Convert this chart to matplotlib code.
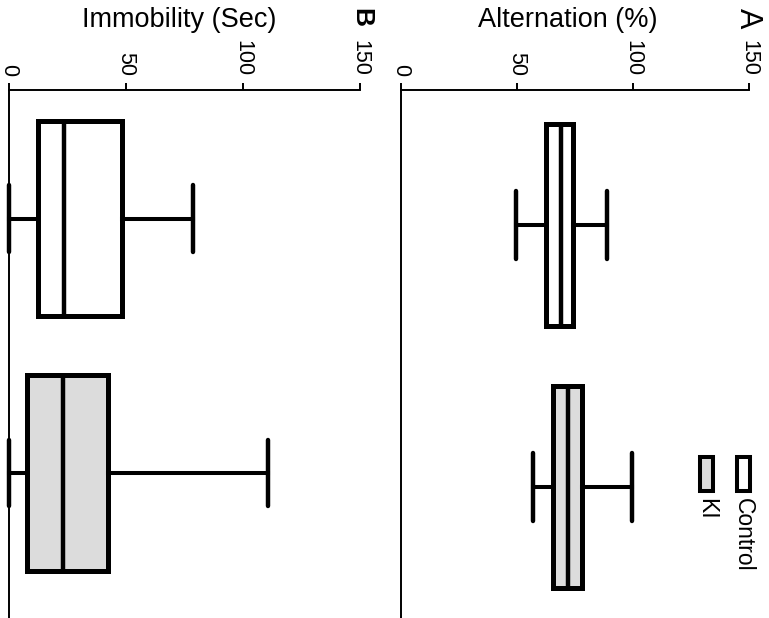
import matplotlib
matplotlib.use('Agg')
import matplotlib.pyplot as plt
from matplotlib.patches import Rectangle

plt.rcParams['font.family'] = ['Liberation Sans', 'DejaVu Sans']

# five-number summaries: whisker low, Q1, median, Q3, whisker high
groups = ['Control', 'KI']
group_colors = ['white', '#dcdcdc']
alt_control = [49.7, 62.3, 68.9, 74.1, 88.6]
alt_ki = [56.7, 65.7, 72.1, 78.2, 99.6]
imm_control = [0.0, 12.6, 23.4, 48.1, 78.8]
imm_ki = [0.0, 7.9, 22.9, 42.1, 110.8]
value_ticks = [0, 50, 100, 150]

W, H = 769, 618
fig = plt.figure(figsize=(W / 100, H / 100), dpi=100)


def px_axes(x0, x1, ytop, ybot):
    return fig.add_axes([x0 / W, 1 - ybot / H, (x1 - x0) / W, (ybot - ytop) / H])


def to_stats(vals, label):
    lo, q1, med, q3, hi = vals
    return {'whislo': lo, 'q1': q1, 'med': med, 'q3': q3, 'whishi': hi,
            'label': label, 'fliers': []}


def draw_panel(ax, data, ylab, label_x, ylims):
    stats = [to_stats(v, g) for v, g in zip(data, groups)]
    bp = ax.bxp(stats, positions=[1, 2], widths=0.768, orientation='horizontal',
                patch_artist=True, showfliers=False, capwidths=0.26,
                boxprops=dict(linewidth=3.6, edgecolor='black'),
                medianprops=dict(linewidth=3.2, color='black', solid_capstyle='butt'),
                whiskerprops=dict(linewidth=2.9, color='black'),
                capprops=dict(linewidth=3.2, color='black', solid_capstyle='round'))
    for patch, c in zip(bp['boxes'], group_colors):
        patch.set_facecolor(c)
    for art in bp['caps'] + bp['whiskers']:
        art.set_clip_on(False)
    ax.set_xlim(0, 150)
    ax.set_ylim(*ylims)
    ax.set_yticks([])
    ax.xaxis.tick_top()
    ax.xaxis.set_label_position('top')
    ax.set_xticks(value_ticks)
    ax.set_xticklabels([str(t) for t in value_ticks], rotation=-90, fontsize=15.5)
    ax.tick_params(axis='x', direction='out', length=5, width=1.4, pad=5)
    for s in ['right', 'bottom']:
        ax.spines[s].set_visible(False)
    for s in ['left', 'top']:
        ax.spines[s].set_linewidth(1.4)
    ax.set_xlabel(ylab, fontsize=19.5)
    ax.xaxis.label.set_verticalalignment('center')
    ax.xaxis.set_label_coords(label_x, 1 + 70 / 528)


axA = px_axes(401, 749, 90, 618)
draw_panel(axA, [alt_control, alt_ki], 'Alternation (%)', 0.48, (2.498, 0.4865))

axB = px_axes(9, 360, 90, 618)
draw_panel(axB, [imm_control, imm_ki], 'Immobility (Sec)', 0.486, (2.570, 0.495))

# panel letters
fig.text(748 / W, 1 - 18 / H, 'A', rotation=-90, fontsize=22,
         ha='center', va='center')
fig.text(361.5 / W, 1 - 17.5 / H, 'B', rotation=-90, fontsize=19, fontweight='bold',
         ha='center', va='center')

# legend (rotated)
leg_x = [743.3, 706.5]
for g, c, xc in zip(groups, group_colors, leg_x):
    fig.add_artist(Rectangle(((xc - 6.3) / W, 1 - 491 / H), 12.6 / W, 34 / H,
                             transform=fig.transFigure, facecolor=c,
                             edgecolor='black', linewidth=2.9))
    fig.text(xc / W, 1 - 498 / H, g, rotation=-90, fontsize=16.5,
             ha='center', va='top')

fig.savefig('out.png', dpi=100)
